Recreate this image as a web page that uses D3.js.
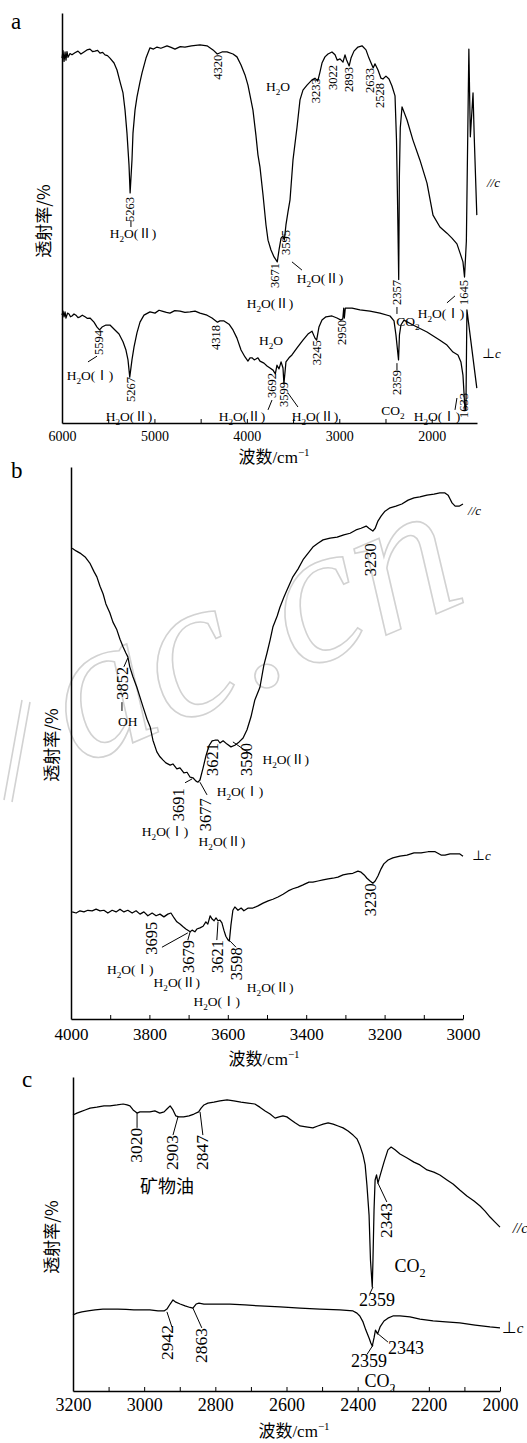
<!DOCTYPE html>
<html><head><meta charset="utf-8">
<script src="https://cdn.jsdelivr.net/npm/d3@7"></script>
<style>
html,body{margin:0;padding:0;background:#fff;}
svg{display:block;}
</style></head><body>
<svg id="chart" width="527" height="1443"></svg>
<script>
// ---------------- DATA ----------------
// Panel a: wavenumber (cm-1), relative transmittance (%)
const aPar = [[6000,89.0],[5989,90.8],[5978,88.2],[5967,90.5],[5957,88.5],[5946,90.6],[5935,89.2],[5914,90.1],[5892,89.8],[5860,90.3],[5827,90.7],[5795,90.0],[5762,90.5],[5730,91.0],[5697,91.2],[5670,90.6],[5643,90.7],[5615,90.9],[5589,90.2],[5560,90.4],[5535,89.8],[5508,89.6],[5481,89.0],[5437,87.8],[5405,86.1],[5372,83.2],[5340,80.5],[5318,76.3],[5297,70.7],[5275,62.9],[5263,56.1],[5243,64.1],[5232,70.7],[5210,76.3],[5189,79.5],[5156,83.2],[5134,85.4],[5091,89.0],[5048,91.5],[5010,91.2],[4972,91.7],[4930,91.4],[4864,92.0],[4820,91.6],[4778,91.2],[4720,91.8],[4670,91.7],[4600,92.0],[4507,92.2],[4431,92.0],[4366,91.0],[4320,90.0],[4269,90.5],[4215,90.5],[4150,90.0],[4107,89.3],[4063,87.3],[4020,84.9],[3988,82.4],[3956,78.8],[3934,76.3],[3902,70.2],[3880,65.4],[3858,62.4],[3825,55.6],[3793,48.3],[3771,44.6],[3739,42.2],[3706,40.5],[3671,39.3],[3652,42.2],[3630,45.1],[3609,45.6],[3595,44.6],[3577,48.3],[3555,51.5],[3533,54.4],[3501,64.1],[3457,72.2],[3425,78.8],[3393,81.2],[3349,82.4],[3295,83.7],[3263,84.1],[3233,83.4],[3209,85.6],[3187,87.8],[3155,89.3],[3122,90.0],[3079,90.5],[3046,89.8],[3022,88.5],[2992,88.8],[2960,88.0],[2938,89.8],[2922,88.6],[2893,87.1],[2873,89.0],[2841,90.7],[2798,91.7],[2754,92.0],[2711,91.0],[2679,89.0],[2633,86.6],[2614,87.6],[2581,86.1],[2549,84.1],[2528,83.9],[2495,84.6],[2462,83.9],[2430,82.2],[2397,79.8],[2381,69.0],[2370,54.4],[2357,35.0],[2350,60.0],[2340,72.0],[2321,77.1],[2267,73.9],[2203,69.0],[2127,64.1],[2051,58.5],[1986,50.7],[1911,47.8],[1835,46.3],[1781,45.1],[1727,43.7],[1694,41.5],[1662,39.3],[1645,35.6],[1625,44.4],[1598,91.2],[1582,69.8],[1553,80.5],[1540,69.8],[1512,50.7]];
const aPerp = [[6000,26.3],[5989,27.3],[5978,25.9],[5967,27.1],[5957,25.6],[5940,26.8],[5924,26.6],[5908,25.9],[5892,26.1],[5870,26.6],[5849,26.3],[5827,25.7],[5805,25.9],[5780,26.3],[5751,25.9],[5724,25.5],[5697,25.6],[5654,24.6],[5621,23.4],[5594,22.7],[5567,23.4],[5524,23.9],[5481,23.9],[5427,22.7],[5383,21.7],[5340,19.8],[5308,17.8],[5286,15.4],[5267,11.2],[5243,15.4],[5221,18.5],[5189,22.0],[5156,24.6],[5113,26.3],[5048,27.1],[4994,26.8],[4950,27.5],[4918,27.3],[4870,27.0],[4832,26.8],[4780,27.4],[4723,27.3],[4670,27.0],[4615,27.1],[4560,27.3],[4507,26.8],[4431,26.3],[4377,25.6],[4318,24.6],[4291,24.9],[4247,24.9],[4193,24.1],[4150,22.7],[4107,20.7],[4063,17.8],[4020,16.1],[3988,15.1],[3966,15.9],[3944,15.9],[3920,15.4],[3902,15.6],[3880,15.9],[3858,15.1],[3815,14.6],[3782,13.9],[3750,13.4],[3717,12.9],[3692,12.0],[3674,14.1],[3652,13.2],[3630,14.9],[3609,13.4],[3599,9.5],[3577,14.9],[3544,15.9],[3512,16.6],[3457,18.3],[3393,20.2],[3339,21.7],[3295,22.4],[3263,20.7],[3245,20.2],[3220,23.4],[3187,25.1],[3144,25.9],[3079,26.1],[3025,25.6],[2982,25.1],[2962,25.4],[2952,28.0],[2945,25.6],[2935,28.0],[2862,28.0],[2776,27.6],[2668,27.3],[2560,26.8],[2451,26.1],[2408,24.9],[2387,21.5],[2359,15.4],[2349,21.5],[2333,23.9],[2300,25.1],[2203,23.9],[2051,22.2],[1911,20.2],[1835,19.0],[1770,17.3],[1716,16.6],[1684,14.9],[1662,11.7],[1640,3.2],[1630,3.2],[1619,27.6],[1512,8.5]];

// Panel b
const bPar = [[3997,85.3],[3987,84.8],[3977,84.4],[3964,83.7],[3952,82.6],[3941,81.0],[3934,80.1],[3926,78.4],[3918,77.0],[3911,75.2],[3901,73.6],[3893,71.9],[3883,70.5],[3875,68.8],[3867,67.4],[3860,66.3],[3855,65.6],[3850,63.8],[3842,62.0],[3832,60.1],[3824,58.3],[3816,56.5],[3806,54.3],[3798,52.9],[3791,50.5],[3781,48.4],[3773,47.5],[3765,46.9],[3758,46.4],[3747,46.0],[3740,46.2],[3730,45.3],[3722,45.5],[3712,44.6],[3704,44.7],[3696,43.8],[3689,43.7],[3681,43.1],[3676,42.9],[3671,43.3],[3663,45.5],[3656,47.6],[3648,49.5],[3640,50.4],[3633,50.5],[3625,50.5],[3620,50.0],[3612,50.4],[3602,49.8],[3592,49.3],[3582,49.6],[3571,50.2],[3561,50.9],[3551,52.4],[3541,54.7],[3531,57.8],[3518,60.1],[3508,64.1],[3500,66.3],[3492,68.7],[3485,71.0],[3474,73.0],[3467,74.6],[3457,76.4],[3449,77.7],[3441,79.0],[3434,80.1],[3421,81.5],[3408,83.2],[3395,84.4],[3383,85.5],[3370,86.2],[3357,86.8],[3339,87.1],[3321,87.3],[3304,87.7],[3288,88.0],[3273,88.6],[3260,88.9],[3247,89.3],[3240,88.9],[3230,88.4],[3224,88.9],[3217,90.2],[3209,91.1],[3199,92.0],[3186,92.6],[3171,92.9],[3156,93.3],[3140,94.0],[3125,94.4],[3110,94.6],[3092,94.9],[3074,95.1],[3059,95.3],[3046,95.3],[3038,94.9],[3033,94.2],[3028,93.5],[3020,92.9],[3010,92.9],[3000,93.3]];
const bPerp = [[3997,19.4],[3987,19.2],[3977,19.6],[3967,19.4],[3957,19.7],[3946,19.6],[3936,19.9],[3926,19.6],[3916,19.7],[3906,19.2],[3895,19.7],[3885,19.4],[3875,19.9],[3865,19.4],[3855,19.7],[3844,19.2],[3834,19.6],[3824,19.0],[3814,19.4],[3804,18.7],[3793,19.2],[3783,18.7],[3773,19.0],[3763,18.5],[3753,19.0],[3745,19.2],[3737,18.3],[3730,17.6],[3722,17.2],[3714,16.7],[3707,16.3],[3696,15.8],[3691,16.1],[3684,15.8],[3679,16.3],[3671,16.5],[3663,16.8],[3656,17.6],[3651,17.2],[3645,18.7],[3640,18.1],[3635,17.8],[3630,18.3],[3625,17.8],[3620,17.9],[3615,17.4],[3610,16.1],[3605,15.0],[3599,14.3],[3596,14.1],[3592,17.0],[3587,19.7],[3582,20.3],[3574,19.7],[3566,20.1],[3559,19.6],[3548,20.1],[3536,20.1],[3523,20.5],[3510,21.0],[3497,21.4],[3485,21.7],[3472,22.1],[3459,22.6],[3446,23.2],[3434,23.6],[3421,23.9],[3408,24.3],[3393,24.8],[3383,24.8],[3370,25.0],[3357,25.2],[3344,25.4],[3332,25.5],[3319,25.7],[3306,26.1],[3293,26.3],[3281,26.4],[3268,26.8],[3260,26.6],[3252,26.1],[3245,25.5],[3237,25.0],[3230,24.6],[3224,25.0],[3217,25.9],[3209,27.2],[3202,28.1],[3191,28.8],[3179,29.2],[3161,29.5],[3143,29.7],[3125,30.1],[3107,30.1],[3089,30.3],[3071,30.3],[3056,29.7],[3046,29.7],[3033,29.9],[3020,29.9],[3008,29.9],[3000,29.5]];

// Panel c
const cPar = [[3200,87.9],[3189,88.5],[3180,88.9],[3166,89.5],[3152,90.1],[3133,90.4],[3113,90.8],[3096,90.8],[3076,91.1],[3059,91.4],[3048,91.1],[3040,90.8],[3031,89.5],[3020,88.5],[3012,88.9],[2998,88.9],[2984,88.9],[2970,89.2],[2956,88.5],[2944,88.9],[2936,89.8],[2927,90.8],[2919,89.5],[2911,87.6],[2903,87.3],[2889,87.3],[2874,87.6],[2860,88.2],[2847,88.9],[2840,90.1],[2832,91.1],[2821,91.7],[2804,92.0],[2787,92.4],[2767,92.7],[2748,92.4],[2728,92.0],[2708,91.7],[2689,91.4],[2675,90.4],[2660,89.2],[2646,88.2],[2632,86.9],[2621,87.3],[2610,87.6],[2599,87.3],[2587,86.3],[2576,85.4],[2562,84.4],[2545,84.1],[2526,83.8],[2512,84.4],[2497,85.0],[2483,85.4],[2469,85.0],[2455,84.4],[2441,83.8],[2427,82.8],[2413,81.5],[2402,80.3],[2394,78.3],[2385,75.2],[2379,72.0],[2374,65.6],[2368,56.1],[2364,41.7],[2359,33.1],[2357,41.7],[2354,57.6],[2351,67.2],[2347,68.8],[2343,66.2],[2335,69.4],[2326,72.9],[2315,76.8],[2306,77.7],[2295,76.8],[2281,75.5],[2261,74.2],[2242,72.9],[2225,72.0],[2205,70.4],[2186,69.7],[2169,68.8],[2149,67.2],[2132,65.9],[2113,64.0],[2093,62.1],[2073,60.5],[2056,58.9],[2042,57.3],[2028,55.4],[2014,53.8],[2000,52.2]];
const cPerp = [[3200,24.2],[3189,24.8],[3175,25.2],[3158,25.5],[3138,25.8],[3116,26.1],[3096,26.1],[3074,26.1],[3051,26.0],[3029,25.8],[3006,25.8],[2984,25.8],[2961,25.5],[2944,25.5],[2936,26.1],[2927,27.7],[2919,29.0],[2911,28.3],[2899,27.7],[2885,27.1],[2871,26.6],[2863,26.4],[2854,27.7],[2846,28.0],[2832,27.7],[2801,27.7],[2759,27.7],[2717,27.4],[2675,27.1],[2618,26.8],[2562,26.4],[2506,26.1],[2450,25.8],[2413,25.5],[2402,24.8],[2394,23.9],[2385,22.0],[2377,19.4],[2368,16.9],[2363,15.3],[2359,14.3],[2354,16.9],[2350,19.4],[2344,18.2],[2337,20.4],[2326,22.3],[2315,23.2],[2301,23.9],[2281,23.9],[2253,23.6],[2225,22.9],[2188,22.3],[2152,22.0],[2113,21.7],[2070,21.0],[2028,20.4],[2000,20.1]];

// tick labels / series names
const aMajor = [6000,5000,4000,3000,2000], aMinor = [5500,4500,3500,2500];
const bMajor = [4000,3800,3600,3400,3200,3000], bMinor = [3900,3700,3500,3300,3100];
const cMajor = [3200,3000,2800,2600,2400,2200,2000], cMinor = [3100,2900,2700,2500,2300,2100];
const seriesNames = ["//c", "⊥c"];
const xTitle = ["波数", "/cm", "−1"];
const yTitle = "透射率/%";

// peak annotations: [label, wavenumber, value]
const aNums = [["5263",5264,55.1],["4320",4318,89.8],["3233",3252,84.1],["3022",3068,87.3],["2893",2895,86.8],["2633",2668,86.6],["2528",2560,82.9],["3671",3696,39.0],["3595",3577,47.1],["2357",2376,34.9],["1645",1651,34.9],["5594",5600,22.7],["5267",5254,11.2],["4318",4334,23.9],["3692",3728,12.2],["3599",3598,10.0],["3245",3241,20.2],["2950",2971,25.1],["2359",2376,12.9],["1633",1651,7.3]];
const aChem = [["H_2O(Ⅱ)",5232,45.1],["H_2O",3663,81.0],["H_2O(Ⅱ)",3750,28.0],["H_2O(Ⅱ)",3209,34.1],["CO_2",2257,23.7],["H_2O(Ⅰ)",1900,25.6],["H_2O(Ⅰ)",5697,10.5],["H_2O(Ⅱ)",5275,0.5],["H_2O",3739,19.0],["H_2O(Ⅱ)",4053,0.5],["H_2O(Ⅱ)",3263,0.5],["CO_2",2419,2.0],["H_2O(Ⅰ)",1943,0.5]];
const aLeads = [[5254,49.5,5254,47.8],[3512,39.3,3404,37.3],[2376,28.3,2376,26.6],[1835,29.3,1748,31.0],[5719,14.9,5621,16.3],[3728,5.6,3771,3.2],[3555,7.3,3447,3.9],[2376,14.6,2376,12.9],[1727,6.1,1748,3.2]];

const bNums = [["3852",3870,63.8],["3230",3237,86.2],["3691",3727,41.8],["3677",3658,40.0],["3621",3640,50.0],["3590",3554,50.0],["3230",3237,24.6],["3695",3796,17.6],["3679",3702,14.3],["3621",3628,14.3],["3598",3579,13.0]];
const bChem = [["OH",3855,53.1],["H_2O(Ⅰ)",3760,33.2],["H_2O(Ⅱ)",3615,31.3],["H_2O(Ⅰ)",3569,40.4],["H_2O(Ⅱ)",3452,46.2],["H_2O(Ⅰ)",3849,8.2],["H_2O(Ⅱ)",3730,5.8],["H_2O(Ⅰ)",3628,2.4],["H_2O(Ⅱ)",3492,4.9]];
const bLeads = [[3855,65.4,3865,63.8],[3870,57.4,3870,55.8],[3709,42.8,3691,43.5],[3671,42.9,3653,40.6],[3587,50.2,3538,47.8],[3768,13.0,3702,15.6],[3696,15.8,3702,14.3],[3625,17.6,3628,14.3],[3594,14.1,3579,13.0]];

const cNums = [["3020",3023,83.8],["2903",2922,81.5],["2847",2838,81.5],["2343",2320,59.9],["2942",2936,21.0],["2863",2840,20.1]];
const cChem = [["矿物油",2936,63.1],["CO_2",2253,37.9],["2359",2346,27.1],["2359",2368,7.8],["2343",2264,11.8],["CO_2",2337,1.4]];
const cLeads = [[3020,88.5,3020,83.8],[2905,87.3,2919,81.5],[2843,88.9,2835,81.5],[2343,66.2,2318,60.2],[2357,33.1,2365,31.2],[2936,25.2,2922,20.4],[2863,26.4,2838,20.1],[2357,14.6,2374,11.6],[2346,18.5,2315,15.6]];

// ---------------- DRAW ----------------
const SERIF = '"Liberation Serif","Times New Roman","Noto Sans CJK SC",serif';
const CJK = '"Noto Sans CJK SC","Liberation Serif",sans-serif';
const svg = d3.select("#chart");

// watermark (drawn first, behind the data)
svg.append("text").attr("transform", "translate(78,766) rotate(-23)")
  .attr("font-family", SERIF).attr("font-style", "italic").attr("font-size", 200)
  .attr("fill", "none").attr("stroke", "#d2d2d2").attr("stroke-width", 1.6).text("ac.cn");
svg.append("path").attr("d", "M4,800 L22,700 M12,802 L30,702")
  .attr("fill", "none").attr("stroke", "#d2d2d2").attr("stroke-width", 1.6);

function chemText(sel, str, size) {
  const parts = str.split(/(_\d)/).filter(s => s.length);
  let sub = false;
  parts.forEach(p => {
    if (p[0] === "_") {
      sel.append("tspan").attr("font-size", size * 0.68).attr("dy", size * 0.28).text(p.slice(1));
      sub = true;
    } else {
      const t = sel.append("tspan").text(p);
      if (sub) t.attr("dy", -size * 0.28);
      sub = false;
    }
  });
}

function panel(c) {
  const x = d3.scaleLinear().domain(c.xDomain).range(c.xRange);
  const y = d3.scaleLinear().domain([0, 100]).range(c.yRange);
  const g = svg.append("g");

  // y axis (plain line)
  g.append("g").attr("transform", `translate(${c.xRange[0]},0)`)
    .call(d3.axisLeft(y).tickValues([]).tickSizeOuter(0))
    .call(s => s.select(".domain").attr("stroke-width", 1.5));
  // x axis minor
  g.append("g").attr("transform", `translate(0,${c.yRange[0]})`)
    .call(d3.axisBottom(x).tickValues(c.minor).tickSize(-4).tickSizeOuter(0).tickFormat(""))
    .call(s => s.select(".domain").attr("stroke-width", 1.5));
  // x axis major
  g.append("g").attr("transform", `translate(0,${c.yRange[0]})`)
    .call(d3.axisBottom(x).tickValues(c.major).tickSize(-4).tickSizeOuter(0).tickPadding(c.pad).tickFormat(d3.format("d")))
    .call(s => {
      s.select(".domain").remove();
      s.selectAll("text").attr("font-family", SERIF).attr("font-size", c.tickSize).attr("fill", "#000");
    });

  // spectra
  const line = d3.line().x(d => x(d[0])).y(d => y(d[1]));
  c.series.forEach(s => g.append("path").datum(s).attr("d", line)
    .attr("fill", "none").attr("stroke", "#000").attr("stroke-width", 1.25).attr("stroke-linejoin", "round"));

  // leaders
  g.selectAll(null).data(c.leads).join("line")
    .attr("x1", d => x(d[0])).attr("y1", d => y(d[1])).attr("x2", d => x(d[2])).attr("y2", d => y(d[3]))
    .attr("stroke", "#000").attr("stroke-width", 1);

  // rotated peak numbers (top anchored)
  g.selectAll(null).data(c.nums).join("text")
    .attr("transform", d => `translate(${x(d[1])},${y(d[2])}) rotate(-90)`)
    .attr("text-anchor", "end").attr("dy", "0.35em")
    .attr("font-family", SERIF).attr("font-size", c.numSize).text(d => d[0]);

  // horizontal labels
  c.chem.forEach(d => {
    const t = g.append("text").attr("x", x(d[1])).attr("y", y(d[2])).attr("text-anchor", "middle")
      .attr("font-family", /[\u4e00-\u9fff]/.test(d[0]) ? CJK : SERIF).attr("font-size", c.chemSize);
    chemText(t, d[0], c.chemSize);
  });

  // series labels
  c.legend.forEach((d, i) => {
    const t = g.append("text").attr("x", x(d[0])).attr("y", y(d[1]))
      .attr("font-family", SERIF).attr("font-size", c.legSize);
    const nm = seriesNames[i];
    t.append("tspan").attr("font-style", i === 0 ? "italic" : "normal").text(nm.slice(0, nm.length - 1));
    t.append("tspan").attr("font-style", "italic").text(nm.slice(-1));
  });

  // panel letter
  svg.append("text").attr("x", c.letter[0]).attr("y", c.letter[1]).attr("font-family", SERIF)
    .attr("font-size", 23).text(c.name);

  // x title
  const xt = svg.append("text").attr("x", c.xTitle[0]).attr("y", c.xTitle[1]).attr("text-anchor", "middle")
    .attr("font-size", 17).attr("font-family", SERIF);
  xt.append("tspan").attr("font-family", CJK).text(xTitle[0]);
  xt.append("tspan").text(xTitle[1]);
  xt.append("tspan").attr("font-size", 11).attr("dy", -7).text(xTitle[2]);

  // y title
  svg.append("text").attr("transform", `translate(${c.yTitle[0]},${c.yTitle[1]}) rotate(-90)`)
    .attr("text-anchor", "middle").attr("dy", "0.35em").attr("font-family", CJK).attr("font-size", 17).text(yTitle);
}

panel({ name: "a", xDomain: [6000, 1510], xRange: [62, 477], yRange: [423, 13],
  major: aMajor, minor: aMinor, pad: 8, tickSize: 14, series: [aPar, aPerp],
  nums: aNums, chem: aChem, leads: aLeads, numSize: 12.5, chemSize: 13.5, legSize: 13,
  legend: [[1402, 57.6], [1456, 15.9]], letter: [11, 29], xTitle: [274, 463], yTitle: [44, 221] });

panel({ name: "b", xDomain: [4000, 3000], xRange: [71, 463], yRange: [1019, 467],
  major: bMajor, minor: bMinor, pad: 9, tickSize: 17, series: [bPar, bPerp],
  nums: bNums, chem: bChem, leads: bLeads, numSize: 16.5, chemSize: 13.5, legSize: 13,
  legend: [[2987, 91.3], [2977, 28.8]], letter: [11, 478], xTitle: [264, 1065], yTitle: [52, 745] });

panel({ name: "c", xDomain: [3200, 2000], xRange: [73, 500], yRange: [1391, 1077],
  major: cMajor, minor: cMinor, pad: 7, tickSize: 18, series: [cPar, cPerp],
  nums: cNums, chem: cChem, leads: cLeads, numSize: 17.5, chemSize: 18, legSize: 15,
  legend: [[1964, 50.3], [1995, 18.5]], letter: [22, 1087], xTitle: [294, 1437], yTitle: [52, 1237] });
</script>
</body></html>
